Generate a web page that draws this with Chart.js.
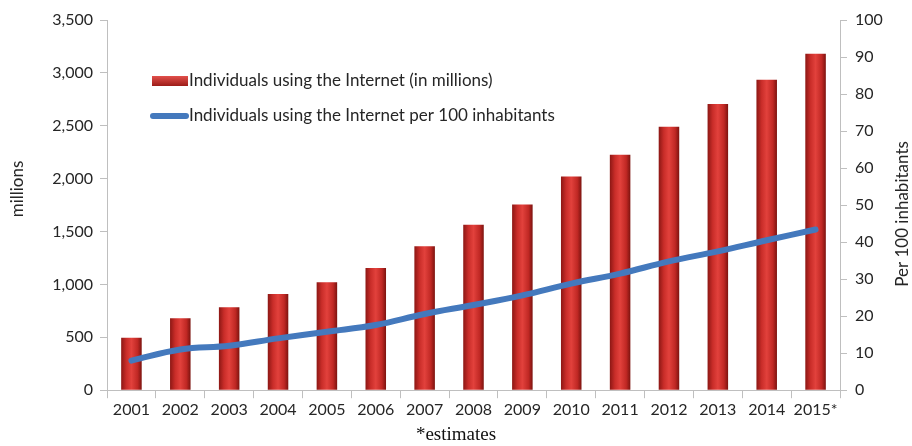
<!DOCTYPE html>
<html>
<head>
<meta charset="utf-8">
<script src="https://cdn.jsdelivr.net/npm/chart.js@4"></script>
<style>
  html, body { margin: 0; padding: 0; background: #fff; }
  #wrap { width: 912px; height: 446px; }
</style>
</head>
<body>
<div id="wrap"><canvas id="grafica" width="912" height="446"></canvas></div>
<script>
// datos
const years = ['2001', '2002', '2003', '2004', '2005', '2006', '2007', '2008',
               '2009', '2010', '2011', '2012', '2013', '2014', '2015*'];
const usersMillions = [495, 680, 785, 910, 1020, 1155, 1360, 1565, 1755, 2020, 2225, 2490, 2705, 2935, 3180];
const usersPer100 = [8, 11, 12, 14, 15.8, 17.6, 20.6, 23, 25.6, 28.8, 31.5, 34.8, 37.5, 40.5, 43.4];
const leftTicks = [0, 500, 1000, 1500, 2000, 2500, 3000, 3500];
const rightTicks = [0, 10, 20, 30, 40, 50, 60, 70, 80, 90, 100];

const FONT = 'Lato, "Open Sans", sans-serif';
const TXT = '#262626';
const BAR_PCT = 0.42;

// degradado tipo cilindro para cada barra
function barGradient(ctx) {
    const chart = ctx.chart;
    const x = chart.scales.x;
    if (!chart.chartArea || !x || ctx.dataIndex === undefined) return '#c8302b';
    const cx = x.getPixelForValue(ctx.dataIndex);
    const w = (x.width / years.length) * BAR_PCT;
    const g = chart.ctx.createLinearGradient(cx - w / 2, 0, cx + w / 2, 0);
    g.addColorStop(0, '#8c1714');
    g.addColorStop(0.25, '#c92d29');
    g.addColorStop(0.5, '#e2413c');
    g.addColorStop(0.8, '#c02824');
    g.addColorStop(1, '#7c130f');
    return g;
}

// leyenda dentro del area y titulos de ejes
const extrasPlugin = {
    id: 'extras',
    afterDraw(chart) {
        const c = chart.ctx;
        c.save();
        c.font = '17px ' + FONT;
        c.textBaseline = 'middle';
        // barra roja
        const g = c.createLinearGradient(0, 76, 0, 86);
        g.addColorStop(0, '#e2504b');
        g.addColorStop(1, '#9c1c18');
        c.fillStyle = g;
        c.fillRect(152, 76, 36, 10);
        c.fillStyle = TXT;
        c.fillText(chart.data.datasets[0].label, 189, 81);
        // linea azul
        c.strokeStyle = '#4479bd';
        c.lineWidth = 6;
        c.lineCap = 'round';
        c.beginPath();
        c.moveTo(153, 116);
        c.lineTo(186, 116);
        c.stroke();
        c.fillText(chart.data.datasets[1].label, 189, 116);

        // titulos de ejes (ambos de abajo hacia arriba)
        c.textAlign = 'center';
        c.font = '17px ' + FONT;
        c.translate(18, 189);
        c.rotate(-Math.PI / 2);
        c.fillText('millions', 0, 0);
        c.rotate(Math.PI / 2);
        c.translate(-18, -189);
        c.translate(903, 214);
        c.rotate(-Math.PI / 2);
        c.fillText('Per 100 inhabitants', 0, 0);
        c.restore();
    }
};

new Chart(document.getElementById('grafica'), {
    type: 'bar',
    data: {
        labels: years,
        datasets: [{
            label: 'Individuals using the Internet (in millions)',
            data: usersMillions,
            yAxisID: 'y',
            backgroundColor: barGradient,
            borderWidth: 0,
            barPercentage: BAR_PCT,
            categoryPercentage: 1,
            order: 2
        }, {
            type: 'line',
            label: 'Individuals using the Internet per 100 inhabitants',
            data: usersPer100,
            yAxisID: 'y1',
            borderColor: '#4479bd',
            borderWidth: 6,
            borderCapStyle: 'round',
            tension: 0.4,
            pointRadius: 0,
            fill: false,
            order: 1
        }]
    },
    options: {
        responsive: false,
        animation: false,
        layout: { padding: { top: 20, left: 0, right: 0, bottom: 0 } },
        plugins: {
            legend: { display: false },
            tooltip: { enabled: false },
            title: {
                display: true,
                position: 'bottom',
                text: '*estimates',
                color: '#111',
                font: { family: '"Liberation Serif", "Times New Roman", serif', size: 19, weight: 'normal' },
                padding: { top: 0, bottom: 0 }
            }
        },
        scales: {
            x: {
                afterFit(s) { s.height = 33; },
                grid: { drawOnChartArea: false, offset: true, tickLength: 8, color: '#bfbfbf' },
                border: { color: '#bfbfbf' },
                ticks: { color: TXT, font: { family: FONT, size: 16 }, padding: 2, maxRotation: 0 }
            },
            y: {
                position: 'left',
                min: 0,
                max: 3500,
                afterFit(s) { s.width = 107; },
                afterBuildTicks(s) { s.ticks = leftTicks.map(v => ({ value: v })); },
                grid: { drawOnChartArea: false, tickLength: 7, color: '#bfbfbf' },
                border: { color: '#bfbfbf' },
                ticks: {
                    color: TXT,
                    font: { family: FONT, size: 16 },
                    padding: 7,
                    callback: v => v.toLocaleString('en-US')
                }
            },
            y1: {
                position: 'right',
                min: 0,
                max: 100,
                afterFit(s) { s.width = 72; },
                afterBuildTicks(s) { s.ticks = rightTicks.map(v => ({ value: v })); },
                grid: { drawOnChartArea: false, tickLength: 7, color: '#bfbfbf' },
                border: { color: '#bfbfbf' },
                ticks: { color: TXT, font: { family: FONT, size: 16 }, padding: 8 }
            }
        }
    },
    plugins: [extrasPlugin]
});
</script>
</body>
</html>
